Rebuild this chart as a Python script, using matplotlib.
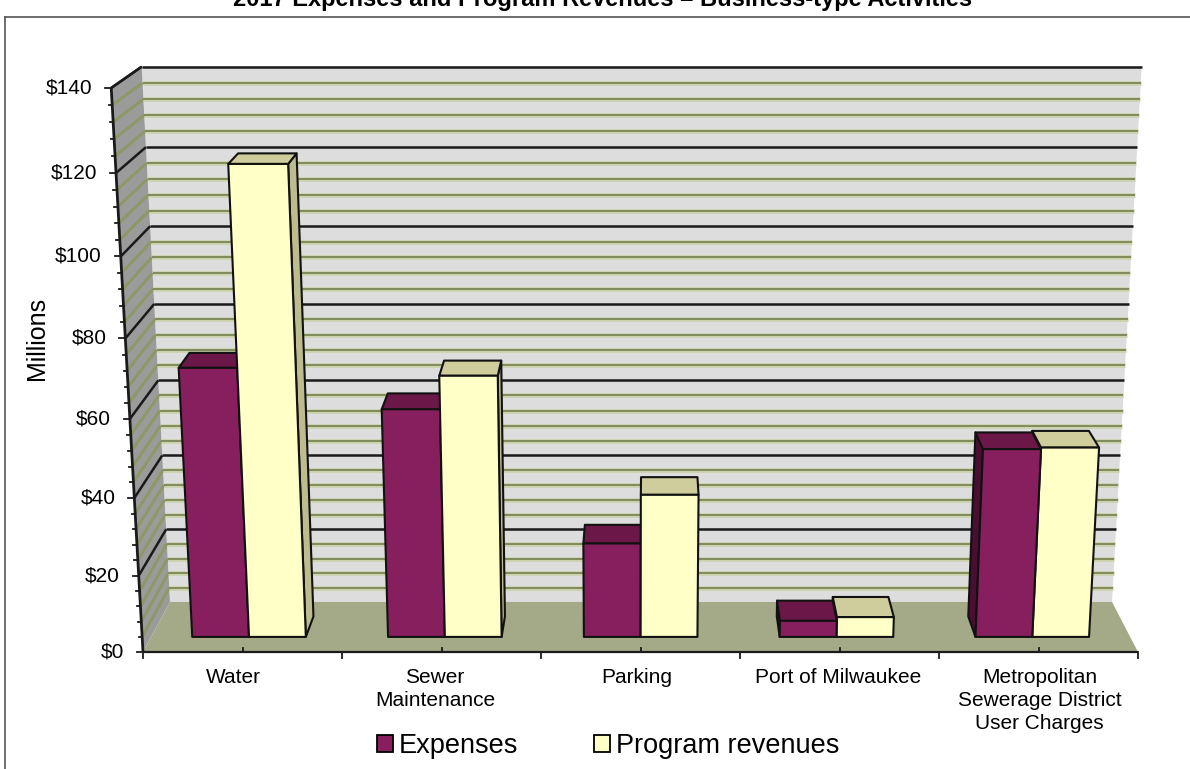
import numpy as np
import matplotlib
matplotlib.use("Agg")
import matplotlib.pyplot as plt
from matplotlib.patches import Polygon, Patch

# ---- data (millions of dollars) ----
categories = ["Water", "Sewer\nMaintenance", "Parking", "Port of Milwaukee",
              "Metropolitan\nSewerage District\nUser Charges"]
expenses = [70.0, 59.5, 24.8, 4.3, 49.3]
program_revenues = [120.3, 68.0, 37.5, 5.3, 49.7]
series_names = ["Expenses", "Program revenues"]
value_ticks = [0, 20, 40, 60, 80, 100, 120, 140]
value_tick_labels = ["$0", "$20", "$40", "$60", "$80", "$100", "$120", "$140"]
minor_step = 4
title = "2017 Expenses and Program Revenues \u2013 Business-type Activities"
y_title = "Millions"

# ---- styling ----
plt.rcParams["font.family"] = ["Liberation Sans", "DejaVu Sans"]
W, H = 1190, 769
EXP_FACE = {"front": "#871F5F", "top": "#6B1849", "side": "#4A0E33"}
REV_FACE = {"front": "#FFFFC8", "top": "#CFCD9C", "side": "#BDBC8E"}
BACK_WALL = "#DDDDDD"
SIDE_WALL = "#9B9B9B"
FLOOR = "#A4AA88"
MINOR_HALO = "#CCD3AC"
MINOR_LINE = "#7F8C5C"
SIDE_MINOR = "#8C9966"
MAJOR_LINE = "#1A1A1A"

# ---- perspective camera for the 3-D column look ----
# world: X = category units (0..n), Y = value, Z = depth (0 front, 1 back)
ORIGIN = (143.0, 652.0)        # front-bottom-left corner of the plot box
X_STEP = 199.0                 # pixels per category along the front edge
DEPTH_VP = (650.0, -288.0)     # vanishing point of the depth direction
DEPTH_W = 0.05625
VERT_VP = (630.0, 9300.0)      # vanishing point of the vertical direction
Y_MAX = value_ticks[-1]
VERT_W = -0.06123 / Y_MAX

BAR_W = 0.29                   # width of one column, in category units
BAR_Z = (0.29, 0.70)           # depth extent of the columns


def project(X, Y, Z):
    X, Y, Z = np.broadcast_arrays(np.asarray(X, float), np.asarray(Y, float),
                                  np.asarray(Z, float))
    w = 1.0 + VERT_W * Y + DEPTH_W * Z
    px = ORIGIN[0] + X_STEP * X + VERT_VP[0] * VERT_W * Y + DEPTH_VP[0] * DEPTH_W * Z
    py = ORIGIN[1] + VERT_VP[1] * VERT_W * Y + DEPTH_VP[1] * DEPTH_W * Z
    return px / w, py / w


def poly(ax, pts, fc, ec="none", lw=0.0, z=1):
    xs, ys = project(*np.array(pts, float).T)
    ax.add_patch(Polygon(np.column_stack([xs, ys]), closed=True, facecolor=fc,
                         edgecolor=ec, linewidth=lw, joinstyle="round", zorder=z))
    return xs, ys


def line3(ax, p0, p1, color, lw, z=2):
    xs, ys = project(*np.array([p0, p1], float).T)
    ax.plot(xs, ys, color=color, lw=lw, solid_capstyle="butt", zorder=z)


fig = plt.figure(figsize=(W / 100, H / 100), dpi=100)
ax = fig.add_axes([0, 0, 1, 1])
ax.set_xlim(0, W)
ax.set_ylim(H, 0)
ax.axis("off")

n = len(categories)

# ---- walls and floor ----
poly(ax, [(0, 0, 1), (n, 0, 1), (n, Y_MAX, 1), (0, Y_MAX, 1)], BACK_WALL, z=1)
poly(ax, [(0, 0, 0), (0, 0, 1), (0, Y_MAX, 1), (0, Y_MAX, 0)], SIDE_WALL, z=1)

for v in np.arange(minor_step, Y_MAX + 0.1, minor_step):
    major = abs(v % 20) < 1e-6
    if major:
        line3(ax, (0, v, 0), (0, v, 1), MAJOR_LINE, 1.8, z=3)
        line3(ax, (0, v, 1), (n, v, 1), MAJOR_LINE, 1.8, z=3)
    else:
        line3(ax, (0, v, 0), (0, v, 1), SIDE_MINOR, 2.2, z=2)
        for color, lw in ((MINOR_HALO, 3.4), (MINOR_LINE, 1.4)):
            line3(ax, (0, v, 1), (n, v, 1), color, lw, z=2)

poly(ax, [(0, 0, 0), (n, 0, 0), (n, 0, 1), (0, 0, 1)], FLOOR, z=4)

# ---- axes lines and ticks ----
line3(ax, (0, 0, 0), (0, Y_MAX, 0), MAJOR_LINE, 2.0, z=6)
line3(ax, (0, Y_MAX, 0), (0, Y_MAX, 1), MAJOR_LINE, 1.8, z=6)
line3(ax, (0, 0, 0), (n, 0, 0), MAJOR_LINE, 1.6, z=6)

for v in np.arange(0, Y_MAX + 0.1, minor_step):
    px, py = project(0, v, 0)
    length = 6 if abs(v % 20) < 1e-6 else 3.5
    ax.plot([px - length, px], [py, py], color=MAJOR_LINE, lw=1.3, zorder=6)

for v, lab in zip(value_ticks, value_tick_labels):
    px, py = project(0, v, 0)
    ax.text(px - 19, py, lab, ha="right", va="center", fontsize=15, zorder=7)

for i in range(n + 1):
    px, py = project(i, 0, 0)
    ax.plot([px, px], [py, py + 6], color=MAJOR_LINE, lw=1.3, zorder=6)
vp_x = DEPTH_VP[0]
for i in range(n):
    px, py = project(i + 0.5, 0, 0)
    ax.plot([px, px], [py, py - 4.5], color=MAJOR_LINE, lw=1.3, zorder=6)
    # labels sit slightly in front of the floor edge, so they spread outward
    lx = px + 0.0125 * (px - vp_x) - 4
    ax.text(lx, py + 16, categories[i], ha="center", va="top", fontsize=15,
            linespacing=1.27, zorder=7)

ax.text(37, 338, y_title, rotation=90, ha="center", va="center", fontsize=18)

# ---- columns ----
bars = []
for i in range(n):
    x0 = i + 0.5 - BAR_W
    bars.append((x0, x0 + BAR_W, expenses[i], EXP_FACE))
    bars.append((x0 + BAR_W, x0 + 2 * BAR_W, program_revenues[i], REV_FACE))

order = sorted(range(len(bars)),
               key=lambda k: -abs(project((bars[k][0] + bars[k][1]) / 2, 0, 0)[0] - vp_x))
za, zb = BAR_Z
for rank, k in enumerate(order):
    x0, x1, v, colors = bars[k]
    zz = 10 + rank * 0.1
    ec, lw = "#111111", 1.5
    # side faces (only the ones turned toward the viewer)
    fr = project(x1, v, za)[0]
    br = project(x1, v, zb)[0]
    if br > fr:
        poly(ax, [(x1, 0, za), (x1, 0, zb), (x1, v, zb), (x1, v, za)],
             colors["side"], ec, lw, zz)
    fl = project(x0, v, za)[0]
    bl = project(x0, v, zb)[0]
    if bl < fl:
        poly(ax, [(x0, 0, za), (x0, 0, zb), (x0, v, zb), (x0, v, za)],
             colors["side"], ec, lw, zz)
    poly(ax, [(x0, v, za), (x1, v, za), (x1, v, zb), (x0, v, zb)],
         colors["top"], ec, lw, zz + 0.01)
    poly(ax, [(x0, 0, za), (x1, 0, za), (x1, v, za), (x0, v, za)],
         colors["front"], ec, lw, zz + 0.02)

# ---- legend ----
handles = [Patch(facecolor=EXP_FACE["front"], edgecolor="black", linewidth=1.3),
           Patch(facecolor=REV_FACE["front"], edgecolor="black", linewidth=1.3)]
ax.legend(handles, series_names, loc="center", bbox_to_anchor=(608, 746),
          bbox_transform=ax.transData, ncol=2, frameon=False, fontsize=19.5,
          handlelength=0.6, handleheight=0.6, handletextpad=0.2,
          columnspacing=2.8, borderpad=0, borderaxespad=0)

# ---- chart frame and title ----
ax.plot([5, W], [17, 17], color="#555555", lw=1.2, zorder=0)
ax.plot([5, 5], [17, H], color="#555555", lw=1.2, zorder=0)
ax.text(603, 6, title, ha="center", va="baseline", fontsize=17, weight="bold")

fig.savefig("out.png", dpi=100)
